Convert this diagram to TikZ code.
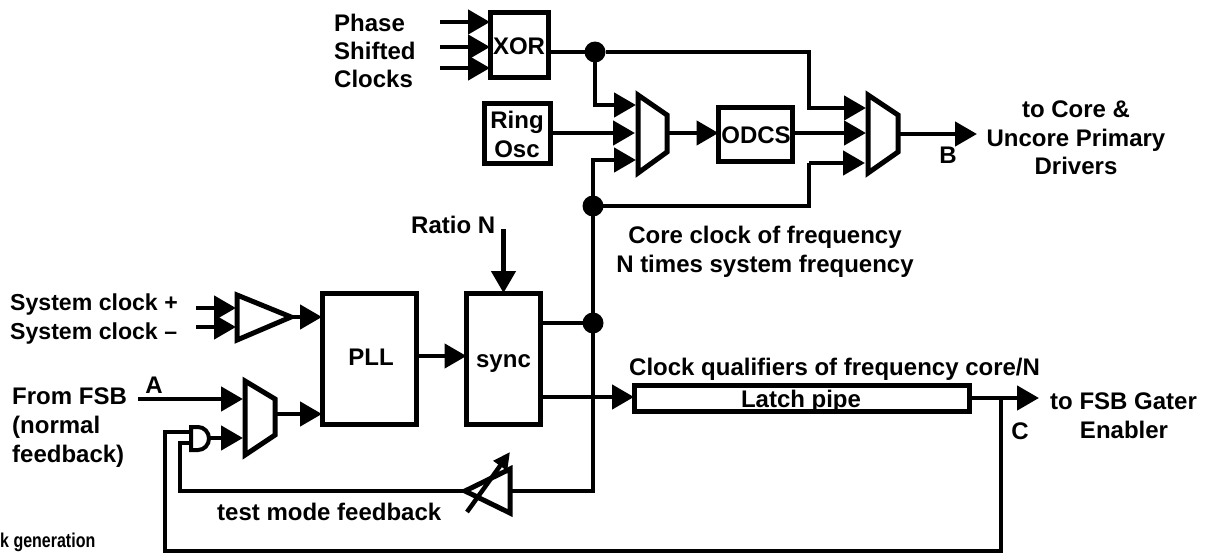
\documentclass[tikz,border=0pt]{standalone}
\usepackage{fontspec}
\setmainfont{Liberation Sans}
\newfontfamily\capfont[FakeStretch=0.8]{Liberation Sans}
\usetikzlibrary{arrows.meta}
\tikzset{
  wire/.style={line width=4.6pt,line cap=butt,line join=miter},
  arrowwire/.style={wire,-{Triangle[length=22pt,width=24pt]}},
  block/.style={draw,line width=5pt,fill=white,inner sep=0pt,outer sep=0pt},
  lbl/.style={inner sep=0pt,anchor=base,font=\fontsize{24}{29}\selectfont\bfseries},
  lbll/.style={lbl,anchor=base west},
  gate/.style={draw,line width=5pt,line join=miter,fill=white},
  junction/.style={circle,fill=black,minimum size=21pt,inner sep=0pt,outer sep=0pt}
}
\begin{document}
\begin{tikzpicture}[x=1pt,y=-1pt]
\useasboundingbox (0,0) rectangle (1213,554);
% named points
\coordinate (s1) at (196,308); \coordinate (s2) at (196,327);
\coordinate (s1e) at (236,308); \coordinate (s2e) at (236,327);
\coordinate (bufo) at (288,317);
\coordinate (fsb) at (138,399); \coordinate (m1a) at (243,399);
\coordinate (andout) at (210,438); \coordinate (m1b) at (243,438);
\coordinate (m1o) at (276,414);
\coordinate (p1) at (440,22); \coordinate (p2) at (440,47); \coordinate (p3) at (440,68);
\coordinate (ratio) at (503.5,229);
\coordinate (m2a) at (636,105); \coordinate (m2b) at (635,133); \coordinate (m2c) at (636,160); \coordinate (m2o) at (667,133);
\coordinate (m3a) at (866,108); \coordinate (m3b) at (866,133); \coordinate (m3c) at (865,163); \coordinate (m3o) at (898,134);
\coordinate (outb) at (977,134);
\coordinate (outc) at (1039,398);
\coordinate (cd) at (1001,398);
\coordinate (lowbus) at (593,491);
\coordinate (tb) at (510,491);
\coordinate (ta) at (465,491);
\coordinate (andu) at (190,432); \coordinate (andl) at (190,443);
% blocks
\node[block,minimum width=58pt,minimum height=65pt] (xor) at (519,44.5) {};
\node[block,minimum width=66pt,minimum height=60pt] (ring) at (517,133) {};
\node[block,minimum width=74pt,minimum height=54pt] (odcs) at (755.5,134) {};
\node[block,minimum width=94pt,minimum height=131pt] (pll) at (369,358.5) {};
\node[block,minimum width=74pt,minimum height=131pt] (sync) at (503.5,358.5) {};
\node[block,minimum width=335pt,minimum height=26pt] (latch) at (801.5,398) {};
% junctions
\node[junction] (j1) at (595,52) {};
\node[junction] (j2) at (593,206) {};
\node[junction] (j3) at (593,323) {};
% connectors
\draw[arrowwire] (p1) -- (xor.west |- p1);
\draw[arrowwire] (p2) -- (xor.west |- p2);
\draw[arrowwire] (p3) -- (xor.west |- p3);
\draw[arrowwire] (s1) -- (s1e);
\draw[arrowwire] (s2) -- (s2e);
\draw[arrowwire] (bufo) -- (pll.west |- bufo);
\draw[arrowwire] (pll.east |- 0,356) -- (sync.west |- 0,356);
\draw[arrowwire] (fsb) -- (m1a);
\draw[arrowwire] (andout) -- (m1b);
\draw[arrowwire] (m1o) -- (pll.west |- m1o);
\draw[arrowwire] (ratio) -- (sync.north);
\draw[wire] (xor.east |- j1) -- (j1);
\draw[wire] (j1) -- (809,52) -- (809,108) -- (843,108);
\draw[arrowwire] (809,108) -- (m3a);
\draw[arrowwire] (j1.center) |- (m2a);
\draw[arrowwire] (ring.east |- m2b) -- (m2b);
\draw[arrowwire] (j2.center) |- (m2c);
\draw[arrowwire] (m2o) -- (odcs.west |- m2o);
\draw[arrowwire] (odcs.east |- m3b) -- (m3b);
\draw[wire] (j2.center) -- (809,206) -- (809,163);
\draw[arrowwire] (809,163) -- (m3c);
\draw[arrowwire] (m3o) -- (outb);
\draw[wire] (j2.center) -- (j3.center) -- (lowbus) -- (tb);
\draw[wire] (sync.east |- j3) -- (j3);
\draw[arrowwire] (sync.east |- 0,397) -- (latch.west |- 0,397);
\draw[arrowwire] (latch.east |- outc) -- (outc);
\draw[wire] (cd) -- (1001,551) -- (165,551) -- (165,432) -- (andu);
\draw[wire] (ta) -- (180,491) -- (180,443) -- (andl);
% gates
\draw[gate] (237,295) -- (291,317) -- (237,340) -- cycle;
\draw[gate] (245,381) -- (275,399) -- (275,435) -- (245,455) -- cycle;
\draw[gate] (638,95) -- (667,115) -- (667,152) -- (638,173) -- cycle;
\draw[gate] (868,95) -- (898,115) -- (898,152) -- (868,173) -- cycle;
\draw[line width=4pt,fill=white] (191,427) -- (198,427) arc[start angle=-90,end angle=90,x radius=11pt,y radius=-11.5pt] -- (191,450) -- cycle;
\draw[gate] (465,491) -- (510,469) -- (510,513) -- cycle;
\draw[line width=4.5pt,-{Triangle[length=17pt,width=16pt]}] (467,512) -- (510,452);
% labels
\node[lbl] at (519,54) {XOR};
\node[lbl] at (517,128) {Ring};
\node[lbl] at (517,157) {Osc};
\node[lbl] at (756,143) {ODCS};
\node[lbl] at (371,365) {PLL};
\node[lbl] at (503.5,367) {sync};
\node[lbl] at (801,407) {Latch pipe};
\node[lbll] at (334,31) {Phase};
\node[lbll] at (334,59) {Shifted};
\node[lbll] at (334,87) {Clocks};
\node[lbl] at (1076,117) {to Core \&};
\node[lbl] at (1076,146) {Uncore Primary};
\node[lbl] at (1076,174) {Drivers};
\node[lbl] at (948,163) {B};
\node[lbll] at (411,233) {Ratio N};
\node[lbl] at (765,243) {Core clock of frequency};
\node[lbl] at (765,272) {N times system frequency};
\node[lbll,font=\fontsize{23.1}{29}\selectfont\bfseries] at (10,310) {System clock +};
\node[lbll,font=\fontsize{23.1}{29}\selectfont\bfseries] at (10,339) {System clock --};
\node[lbll] at (12,404) {From FSB};
\node[lbll] at (12,433) {(normal};
\node[lbll] at (12,462) {feedback)};
\node[lbl] at (154,393) {A};
\node[lbll] at (217,520) {test mode feedback};
\node[lbll] at (629,375) {Clock qualifiers of frequency core/N};
\node[lbl] at (1020,439) {C};
\node[lbll] at (1050,409) {to FSB Gater};
\node[lbl] at (1124,438) {Enabler};
\node[inner sep=0pt,anchor=base west,font=\fontsize{20}{22}\capfont\bfseries] at (0,547) {k generation};
\end{tikzpicture}
\end{document}
